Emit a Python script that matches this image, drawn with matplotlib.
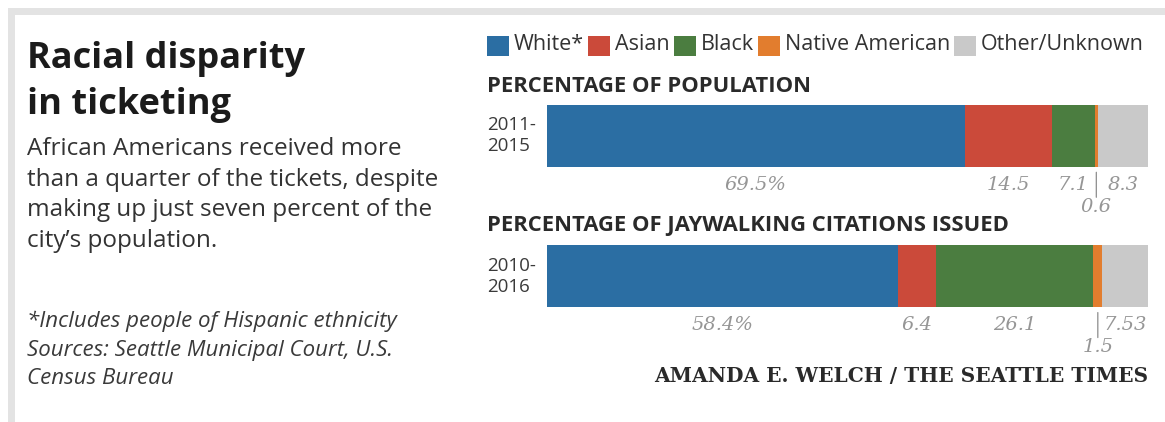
import matplotlib.pyplot as plt
from matplotlib.patches import Rectangle

# Race / ethnicity shares, in percent
groups = ["White*", "Asian", "Black", "Native American", "Other/Unknown"]
colors = ["#2b6ea3", "#cb4a3a", "#4b7d40", "#e27d2e", "#c9c9c9"]

periods = ["2011-\n2015", "2010-\n2016"]
headers = ["PERCENTAGE OF POPULATION", "PERCENTAGE OF JAYWALKING CITATIONS ISSUED"]
population = [69.5, 14.5, 7.1, 0.6, 8.3]
citations = [58.4, 6.4, 26.1, 1.5, 7.53]
value_labels = [["69.5%", "14.5", "7.1", "0.6", "8.3"],
                ["58.4%", "6.4", "26.1", "1.5", "7.53"]]

W, H = 1165, 422
fig = plt.figure(figsize=(W / 100, H / 100), dpi=100)
fig.patch.set_facecolor("white")

def px(x, y):
    # pixel position (from top-left) -> figure fraction
    return x / W, 1 - y / H

# grey frame along the top and left edge
fig.patches.append(Rectangle((8 / W, 1 - 15 / H), 1, 7 / H, transform=fig.transFigure,
                             facecolor="#e3e3e3", edgecolor="none"))
fig.patches.append(Rectangle((8 / W, 0), 7 / W, 1 - 8 / H, transform=fig.transFigure,
                             facecolor="#e3e3e3", edgecolor="none"))

sans = "Open Sans"

# headline, intro and notes
fig.text(*px(27, 82), "Racial disparity\nin ticketing", fontsize=26, fontweight="bold",
         family=sans, color="#1b1b1b", va="center", linespacing=1.36)
fig.text(*px(27, 195), "African Americans received more\nthan a quarter of the tickets, despite\n"
         "making up just seven percent of the\ncity\u2019s population.",
         fontsize=17.5, family=sans, color="#333333", va="center", linespacing=1.37)
fig.text(*px(27, 350), "*Includes people of Hispanic ethnicity\nSources: Seattle Municipal Court, U.S.\n"
         "Census Bureau", fontsize=16, family=sans, style="italic", color="#3a3a3a",
         va="center", linespacing=1.48)

# legend row
fig.canvas.draw()
renderer = fig.canvas.get_renderer()
x = 487
for name, c in zip(groups, colors):
    fig.patches.append(Rectangle(px(x, 56), 22 / W, 20 / H, transform=fig.transFigure,
                                 facecolor=c, edgecolor="none"))
    t = fig.text(*px(x + 27, 45), name, fontsize=15.5, family=sans, color="#333333", va="center")
    x = t.get_window_extent(renderer).x1 + 4

# section headers
fig.text(*px(487, 86), headers[0], fontsize=15.8, family=sans, fontweight="bold",
         color="#2a2a2a", va="center")
fig.text(*px(487, 226), headers[1], fontsize=15.8, family=sans, fontweight="bold",
         color="#2a2a2a", va="center")

# stacked bars
ax = fig.add_axes([547 / W, (H - 307) / H, (1148 - 547) / W, 202 / H])
ax.set_xlim(0, 100)
ax.set_ylim(1.22, -0.22)
ax.axis("off")

bar_h = 0.44
lab_style = dict(ha="center", va="center", fontsize=14, style="italic", color="#969696",
                 family="DejaVu Serif", textcoords="offset points")
for row, vals in enumerate([population, citations]):
    left = 0
    for i, v in enumerate(vals):
        ax.barh(row, v, left=left, height=bar_h, color=colors[i], edgecolor="none")
        mid = left + v / 2
        bottom = row + bar_h / 2
        if i == 3:
            # thin slice: label hangs below on a short leader
            ax.annotate("", xy=(mid, bottom), xytext=(0, -22), textcoords="offset points",
                        arrowprops=dict(arrowstyle="-", color="#8c8c8c", lw=0.9,
                                        shrinkA=0, shrinkB=4))
            ax.annotate(value_labels[row][i], xy=(mid, bottom), xytext=(0, -29), **lab_style)
        else:
            ax.annotate(value_labels[row][i], xy=(mid, bottom), xytext=(0, -13), **lab_style)
        left += v
    ax.text(-60 / 601 * 100, row, periods[row], ha="left", va="center", fontsize=13.5,
            family=sans, color="#3a3a3a", linespacing=1.2)

# credit line
fig.text(*px(1148, 376), "AMANDA E. WELCH / THE SEATTLE TIMES", ha="right", va="center",
         fontsize=14.5, family="DejaVu Serif", fontweight="bold", color="#2a2a2a")

fig.savefig("out.png", dpi=100)
